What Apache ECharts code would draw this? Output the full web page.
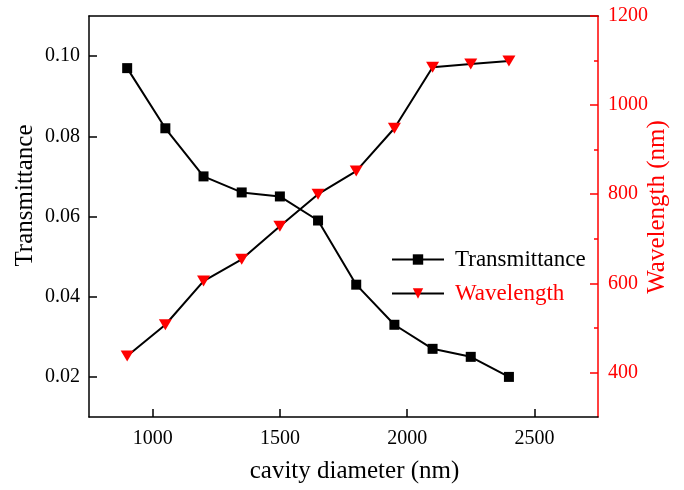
<!DOCTYPE html>
<html>
<head>
<meta charset="utf-8">
<script src="https://cdn.jsdelivr.net/npm/echarts@6/dist/echarts.min.js"></script>
<style>html,body{margin:0;padding:0;background:#fff;}#c{width:684px;height:490px;}</style>
</head>
<body>
<div id="c"></div>
<script>
const xValues = [900, 1050, 1200, 1350, 1500, 1650, 1800, 1950, 2100, 2250, 2400];
const transmittance = [0.097, 0.082, 0.070, 0.066, 0.065, 0.059, 0.043, 0.033, 0.027, 0.025, 0.020];
const wavelength = [437, 507, 605, 654, 728, 800, 852, 948, 1085, 1092, 1099];
const xTicks = [1000, 1500, 2000, 2500];
const leftTicks = [0.02, 0.04, 0.06, 0.08, 0.10];
const rightTicks = [400, 600, 800, 1000, 1200];
const rightMinorTicks = [500, 700, 900, 1100];

const FONT = '"Liberation Serif", "Times New Roman", serif';
const RED = '#ff0000';

const chart = echarts.init(document.getElementById('c'), null, {renderer: 'canvas'});
chart.setOption({
  backgroundColor: '#fff',
  animation: false,
  grid: {left: 89, right: 86, top: 16, bottom: 73, containLabel: false, outerBoundsMode: 'none'},
  legend: {
    orient: 'vertical',
    left: 386,
    top: 243,
    itemWidth: 52,
    itemHeight: 13,
    itemGap: 11,
    data: [
      {name: 'Transmittance', textStyle: {color: '#000'}},
      {name: 'Wavelength', textStyle: {color: RED}}
    ],
    textStyle: {fontFamily: FONT, fontSize: 23, padding: [0, 0, 0, 6]}
  },
  xAxis: [{
    type: 'value', min: 750, max: 2750,
    name: 'cavity diameter (nm)', nameLocation: 'middle', nameGap: 42, nameMoveOverlap: false,
    nameTextStyle: {fontFamily: FONT, fontSize: 25, color: '#000', padding: [0, 0, 0, 22]},
    axisLine: {show: true, onZero: false, lineStyle: {color: '#000', width: 1.5}},
    axisTick: {show: true, inside: true, length: 8, customValues: xTicks, lineStyle: {color: '#000', width: 1.5}},
    axisLabel: {customValues: xTicks, margin: 12, fontFamily: FONT, fontSize: 20, color: '#000',
      formatter: v => String(v)},
    splitLine: {show: false}
  }, {
    type: 'value', min: 750, max: 2750, position: 'top',
    axisLine: {show: true, onZero: false, lineStyle: {color: '#000', width: 1.5}},
    axisTick: {show: false}, axisLabel: {show: false}, splitLine: {show: false}
  }],
  yAxis: [{
    type: 'value', min: 0.01, max: 0.11, position: 'left',
    name: 'Transmittance', nameLocation: 'middle', nameGap: 51, nameMoveOverlap: false,
    nameTextStyle: {fontFamily: FONT, fontSize: 25, color: '#000', padding: [0, 0, 0, 42]},
    axisLine: {show: true, onZero: false, lineStyle: {color: '#000', width: 1.5}},
    axisTick: {show: true, inside: true, length: 8, customValues: leftTicks, lineStyle: {color: '#000', width: 1.5}},
    axisLabel: {customValues: leftTicks, margin: 9, fontFamily: FONT, fontSize: 20, color: '#000',
      formatter: v => v.toFixed(2)},
    splitLine: {show: false}
  }, {
    type: 'value', min: 300, max: 1200, position: 'right',
    name: 'Wavelength (nm)', nameLocation: 'middle', nameGap: 47, nameRotate: 90, nameMoveOverlap: false,
    nameTextStyle: {fontFamily: FONT, fontSize: 25, color: RED, padding: [0, 0, 0, 19]},
    axisLine: {show: true, onZero: false, lineStyle: {color: RED, width: 1.5}},
    axisTick: {show: true, inside: true, length: 8, customValues: rightTicks, lineStyle: {color: RED, width: 1.5}},
    axisLabel: {customValues: rightTicks, margin: 10, fontFamily: FONT, fontSize: 20, color: RED,
      formatter: v => String(v)},
    splitLine: {show: false}
  }, {
    type: 'value', min: 300, max: 1200, position: 'right',
    axisLine: {show: false},
    axisTick: {show: true, inside: true, length: 4, customValues: rightMinorTicks, lineStyle: {color: RED, width: 1.5}},
    axisLabel: {show: false, customValues: rightMinorTicks},
    splitLine: {show: false}
  }],
  series: [{
    name: 'Transmittance', type: 'line', xAxisIndex: 0, yAxisIndex: 0,
    data: xValues.map((x, i) => [x, transmittance[i]]),
    symbol: 'rect', symbolSize: 10,
    lineStyle: {color: '#000', width: 2},
    itemStyle: {color: '#000'}
  }, {
    name: 'Wavelength', type: 'line', xAxisIndex: 0, yAxisIndex: 1,
    data: xValues.map((x, i) => [x, wavelength[i]]),
    symbol: 'triangle', symbolSize: [13, 11], symbolRotate: 180,
    lineStyle: {color: '#000', width: 2},
    itemStyle: {color: RED}
  }]
});
</script>
</body>
</html>
